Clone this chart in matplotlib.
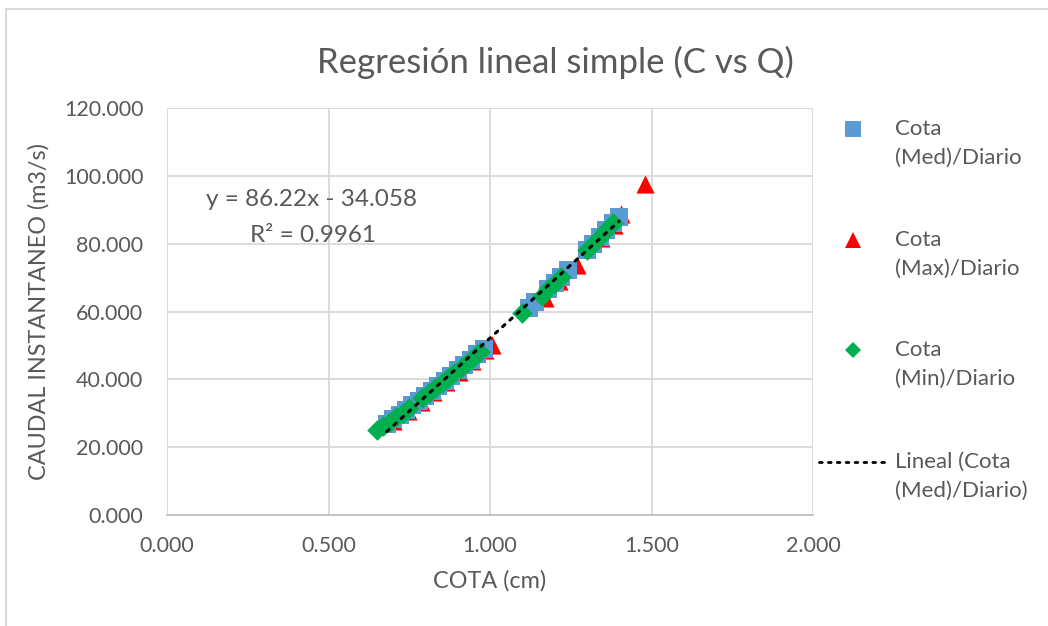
import matplotlib
matplotlib.use("Agg")
import matplotlib.pyplot as plt
from matplotlib.ticker import FormatStrFormatter
from matplotlib.lines import Line2D

plt.rcParams['font.family'] = ['Lato', 'DejaVu Sans']

# Daily stage (cota, cm) and instantaneous discharge (m3/s)
cota_med = [0.68, 0.70, 0.72, 0.74, 0.76, 0.78, 0.80, 0.82, 0.84, 0.86, 0.88,
            0.90, 0.92, 0.94, 0.96, 0.98, 1.12, 1.14, 1.18, 1.20, 1.22, 1.24,
            1.30, 1.32, 1.34, 1.36, 1.38, 1.40]
caudal_med = [26.9, 28.2, 29.6, 30.9, 32.3, 33.7, 35.2, 36.6, 38.1, 39.6, 41.1,
              42.7, 44.2, 45.8, 47.4, 49.0, 61.0, 62.9, 66.5, 68.4, 70.3, 72.1,
              78.0, 80.0, 81.9, 83.9, 86.0, 88.0]

cota_max = [0.70, 0.745, 0.785, 0.825, 0.865, 0.905, 0.945, 0.985, 1.005, 1.17,
            1.215, 1.27, 1.345, 1.385, 1.405, 1.48]
caudal_max = [27.6, 30.6, 33.4, 36.3, 39.3, 42.3, 45.5, 48.6, 50.1, 64.0, 69.0,
              73.7, 81.8, 85.6, 88.6, 97.5]

cota_min = [0.65, 0.67, 0.69, 0.71, 0.73, 0.75, 0.79, 0.81, 0.83, 0.85, 0.87,
            0.89, 0.91, 0.93, 0.95, 0.97, 1.10, 1.16, 1.18, 1.20, 1.22,
            1.30, 1.32, 1.34, 1.36, 1.38]
caudal_min = [25.0, 26.1, 27.5, 28.8, 30.2, 31.6, 34.4, 35.9, 37.4, 38.8, 40.3,
              41.8, 43.4, 44.9, 46.5, 48.1, 59.5, 64.7, 66.5, 68.4, 70.3,
              78.0, 80.0, 81.9, 83.9, 86.0]

# Linear trend fitted to the Med series
pendiente = 86.22
intercepto = -34.058
r2 = 0.9961

x_ticks = [0.0, 0.5, 1.0, 1.5, 2.0]
y_ticks = [0, 20, 40, 60, 80, 100, 120]

series_labels = [('Cota', '(Med)/Diario'), ('Cota', '(Max)/Diario'),
                 ('Cota', '(Min)/Diario'), ('Lineal (Cota', '(Med)/Diario)')]

gris_texto = '#595959'
gris_grid = '#d9d9d9'
azul, rojo, verde = '#5b9bd5', '#ff0000', '#00b050'
trend_style = (0, (1, 2.2))

W, H = 1048, 626
fig = plt.figure(figsize=(W / 100, H / 100), dpi=100)
ax = fig.add_axes([167 / W, 1 - 515 / H, (813 - 167) / W, (515 - 108) / H])

ax.scatter(cota_med, caudal_med, marker='s', s=150, color=azul, zorder=3, linewidths=0)
ax.scatter(cota_max, caudal_max, marker='^', s=170, color=rojo, zorder=2, linewidths=0)
ax.scatter(cota_min, caudal_min, marker='D', s=110, color=verde, zorder=4, linewidths=0)

x0, x1 = min(cota_med), max(cota_med)
ax.plot([x0, x1], [pendiente * x0 + intercepto, pendiente * x1 + intercepto],
        linestyle=trend_style, color='black', linewidth=2.2, zorder=5,
        dash_capstyle='round')

ax.set_xlim(0, 2.0)
ax.set_ylim(0, 120)
ax.set_xticks(x_ticks)
ax.set_yticks(y_ticks)
ax.xaxis.set_major_formatter(FormatStrFormatter('%.3f'))
ax.yaxis.set_major_formatter(FormatStrFormatter('%.3f'))
ax.grid(True, color=gris_grid, linewidth=1.3, zorder=0)
ax.set_axisbelow(True)
for side in ['top', 'right', 'left']:
    ax.spines[side].set_visible(False)
ax.spines['bottom'].set_color('#bfbfbf')
ax.spines['bottom'].set_linewidth(1.3)
ax.tick_params(length=0, labelsize=15.5, colors=gris_texto)
ax.tick_params(axis='y', pad=17)
ax.tick_params(axis='x', pad=15)

ax.set_xlabel('COTA (cm)', fontsize=16.8, color=gris_texto, labelpad=10)
ax.set_ylabel('CAUDAL INSTANTANEO (m3/s)', fontsize=16.8, color=gris_texto, labelpad=10)

fig.text(555 / W, 1 - 62 / H, 'Regresión lineal simple (C vs Q)',
         ha='center', va='center', fontsize=25, color=gris_texto)

ax.text(0.446, 92.9, f'y = {pendiente}x - {abs(intercepto)}', ha='center', va='center',
        fontsize=17.5, color=gris_texto, zorder=6)
ax.text(0.452, 82.3, f'R² = {r2}', ha='center', va='center',
        fontsize=17.5, color=gris_texto, zorder=6)

# Legend on the right, laid out entry by entry
entry_y = [129, 240, 350, 462]
line_gap = 29
text_x = 895
mark_x = 853
handle_styles = [dict(marker='s', color=azul, markersize=11),
                 dict(marker='^', color=rojo, markersize=11),
                 dict(marker='D', color=verde, markersize=8)]
for (first, second), y in zip(series_labels, entry_y):
    fig.text(text_x / W, 1 - y / H, first, ha='left', va='center',
             fontsize=16, color=gris_texto)
    fig.text(text_x / W, 1 - (y + line_gap) / H, second, ha='left', va='center',
             fontsize=16, color=gris_texto)
for style, y in zip(handle_styles, entry_y):
    fig.add_artist(Line2D([mark_x / W], [1 - y / H], transform=fig.transFigure,
                          linestyle='none', markeredgewidth=0, **style))
fig.add_artist(Line2D([819 / W, 885 / W], [1 - entry_y[3] / H] * 2, transform=fig.transFigure,
                      linestyle=trend_style, color='black', linewidth=2,
                      dash_capstyle='round'))

# Chart area border (top and left edges visible)
fig.add_artist(Line2D([6 / W, 6 / W], [0, 1 - 9 / H], transform=fig.transFigure,
                      color='#d9d9d9', linewidth=1.5))
fig.add_artist(Line2D([6 / W, 1], [1 - 9 / H, 1 - 9 / H], transform=fig.transFigure,
                      color='#d9d9d9', linewidth=1.5))

fig.savefig('out.png', dpi=100)
